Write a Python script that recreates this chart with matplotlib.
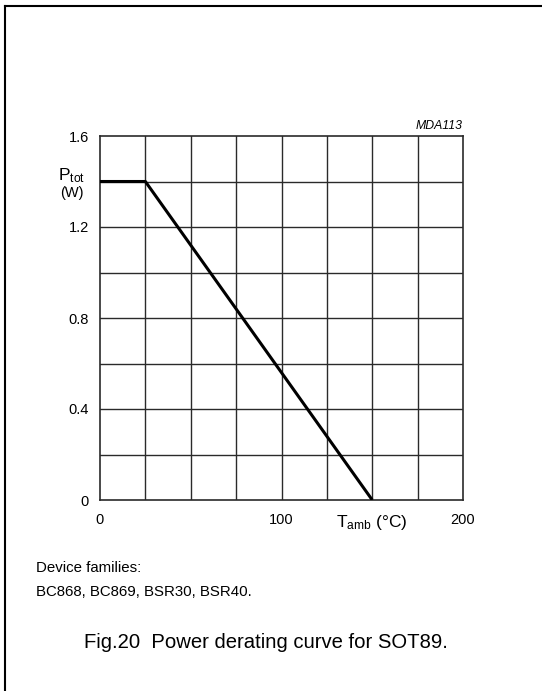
import matplotlib
matplotlib.use("Agg")
import matplotlib.pyplot as plt
from matplotlib.lines import Line2D

plt.rcParams['font.family'] = ['Liberation Sans', 'DejaVu Sans']
plt.rcParams['mathtext.fontset'] = 'custom'
plt.rcParams['mathtext.rm'] = 'Liberation Sans'
plt.rcParams['mathtext.it'] = 'Liberation Sans:italic'

# Derating curve: ambient temperature (°C) vs total power (W)
t_amb = [0, 25, 150]
p_tot = [1.4, 1.4, 0.0]

x_ticks = [0, 100, 200]
y_ticks = [0, 0.4, 0.8, 1.2, 1.6]
y_ticklabels = ['0', '0.4', '0.8', '1.2', '1.6']
x_grid = [25, 50, 75, 100, 125, 150, 175]
y_grid = [0.2, 0.4, 0.6, 0.8, 1.0, 1.2, 1.4]

fig = plt.figure(figsize=(5.42, 6.91), dpi=100)
ax = fig.add_axes([100 / 542, 1 - 500 / 691, 363 / 542, 364 / 691])

for x in x_grid:
    ax.axvline(x, color='#2a2a2a', linewidth=1.0, zorder=1)
for y in y_grid:
    ax.axhline(y, color='#2a2a2a', linewidth=1.0, zorder=1)

ax.plot(t_amb, p_tot, color='black', linewidth=2.2, solid_capstyle='butt', zorder=3)

ax.set_xlim(0, 200)
ax.set_ylim(0, 1.6)
ax.set_xticks(x_ticks)
ax.set_xticklabels(['0', '100', '200'])
ax.set_yticks(y_ticks)
ax.set_yticklabels(y_ticklabels)
ax.tick_params(length=0, labelsize=10.5, pad=8)
ax.tick_params(axis='x', pad=9)
for s in ax.spines.values():
    s.set_color('#2a2a2a')
    s.set_linewidth(1.2)

# axis titles
fig.text(72 / 542, 1 - 176 / 691, r'$\mathregular{P_{tot}}$', fontsize=12.5,
         ha='center', va='center')
fig.text(72 / 542, 1 - 193 / 691, '(W)', fontsize=10.5, ha='center', va='center')
fig.text(372 / 542, 1 - 522 / 691, r'$\mathregular{T_{amb}}$ (°C)', fontsize=12.5,
         ha='center', va='center')
fig.text(463 / 542, 1 - 126 / 691, 'MDA113', fontsize=8.8, style='italic',
         ha='right', va='center')

# notes and caption
fig.text(36 / 542, 1 - 568 / 691, 'Device families:', fontsize=10.8,
         ha='left', va='center')
fig.text(36 / 542, 1 - 592 / 691, 'BC868, BC869, BSR30, BSR40.', fontsize=10.8,
         ha='left', va='center')
fig.text(266 / 542, 1 - 643 / 691, 'Fig.20  Power derating curve for SOT89.',
         fontsize=14.6, ha='center', va='center')

# page frame (top and left edges)
fig.add_artist(Line2D([5 / 542, 1], [1 - 6 / 691, 1 - 6 / 691],
                      transform=fig.transFigure, color='black', linewidth=1.5))
fig.add_artist(Line2D([5 / 542, 5 / 542], [0, 1 - 6 / 691],
                      transform=fig.transFigure, color='black', linewidth=1.5))

fig.savefig('out.png', dpi=100)
